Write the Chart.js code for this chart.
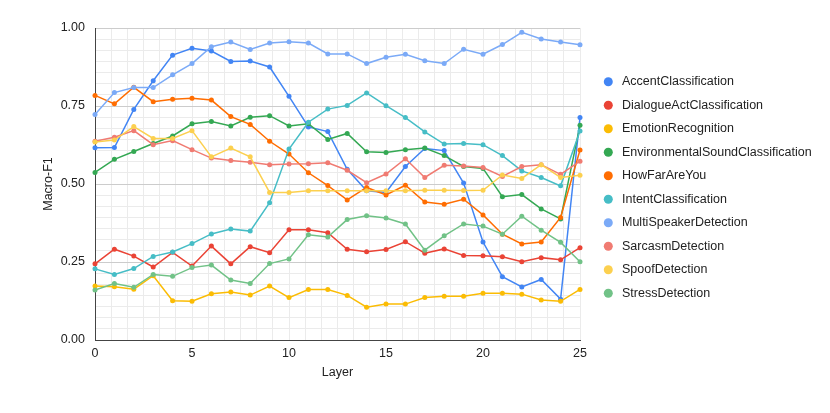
<!DOCTYPE html>
<html>
<head>
<meta charset="utf-8">
<script src="https://cdn.jsdelivr.net/npm/chart.js@4/dist/chart.umd.min.js"></script>
<style>
  html, body { margin: 0; padding: 0; background: #fff; }
  canvas { display: block; }
</style>
</head>
<body>
<canvas id="chart" width="830" height="413"></canvas>
<script>
// Macro-F1 per layer for each task

const layers = [0, 1, 2, 3, 4, 5, 6, 7, 8, 9, 10, 11, 12, 13, 14, 15, 16, 17, 18, 19, 20, 21, 22, 23, 24, 25];

const taskNames = [
    'AccentClassification',
    'DialogueActClassification',
    'EmotionRecognition',
    'EnvironmentalSoundClassification',
    'HowFarAreYou',
    'IntentClassification',
    'MultiSpeakerDetection',
    'SarcasmDetection',
    'SpoofDetection',
    'StressDetection'
];

const accent = [0.616, 0.617, 0.739, 0.831, 0.913, 0.935, 0.926, 0.893, 0.894, 0.875, 0.781, 0.683, 0.668, 0.547, 0.478, 0.473, 0.556, 0.614, 0.607, 0.503, 0.314, 0.203, 0.170, 0.194, 0.131, 0.713];
const dialogueAct = [0.244, 0.291, 0.269, 0.234, 0.281, 0.237, 0.301, 0.244, 0.299, 0.280, 0.353, 0.353, 0.344, 0.291, 0.283, 0.290, 0.315, 0.278, 0.292, 0.271, 0.270, 0.267, 0.251, 0.264, 0.257, 0.296];
const emotion = [0.173, 0.171, 0.163, 0.206, 0.126, 0.124, 0.148, 0.154, 0.144, 0.173, 0.136, 0.162, 0.162, 0.143, 0.105, 0.115, 0.115, 0.136, 0.140, 0.140, 0.150, 0.150, 0.147, 0.128, 0.124, 0.162];
const environmental = [0.537, 0.579, 0.604, 0.630, 0.654, 0.693, 0.700, 0.686, 0.714, 0.719, 0.686, 0.693, 0.643, 0.662, 0.603, 0.601, 0.610, 0.615, 0.591, 0.556, 0.550, 0.459, 0.466, 0.420, 0.388, 0.688];
const howFar = [0.784, 0.757, 0.810, 0.764, 0.772, 0.775, 0.769, 0.716, 0.691, 0.637, 0.596, 0.536, 0.495, 0.449, 0.489, 0.465, 0.496, 0.442, 0.435, 0.451, 0.401, 0.339, 0.308, 0.314, 0.393, 0.609];
const intent = [0.228, 0.210, 0.229, 0.268, 0.282, 0.309, 0.340, 0.356, 0.349, 0.440, 0.612, 0.698, 0.740, 0.752, 0.792, 0.751, 0.713, 0.667, 0.628, 0.630, 0.626, 0.591, 0.542, 0.521, 0.494, 0.670];
const multiSpeaker = [0.723, 0.793, 0.809, 0.809, 0.850, 0.886, 0.940, 0.955, 0.931, 0.952, 0.956, 0.952, 0.917, 0.917, 0.886, 0.906, 0.916, 0.895, 0.886, 0.932, 0.916, 0.947, 0.986, 0.965, 0.955, 0.946];
const sarcasm = [0.637, 0.650, 0.671, 0.626, 0.639, 0.610, 0.583, 0.575, 0.570, 0.562, 0.564, 0.565, 0.568, 0.544, 0.504, 0.532, 0.581, 0.521, 0.560, 0.558, 0.553, 0.524, 0.556, 0.562, 0.531, 0.573];
const spoof = [0.635, 0.641, 0.684, 0.646, 0.646, 0.671, 0.587, 0.615, 0.587, 0.473, 0.473, 0.478, 0.478, 0.478, 0.478, 0.478, 0.478, 0.480, 0.480, 0.479, 0.480, 0.529, 0.518, 0.562, 0.521, 0.528];
const stress = [0.160, 0.181, 0.169, 0.210, 0.204, 0.232, 0.240, 0.192, 0.181, 0.245, 0.260, 0.337, 0.330, 0.386, 0.398, 0.391, 0.372, 0.288, 0.334, 0.372, 0.365, 0.339, 0.397, 0.352, 0.313, 0.251];

const xTickLabels = [0, 5, 10, 15, 20, 25];
const yTickLabels = ['0.00', '0.25', '0.50', '0.75', '1.00'];

const seriesValues = [accent, dialogueAct, emotion, environmental, howFar, intent, multiSpeaker, sarcasm, spoof, stress];
const colors = ['#4285F4', '#EA4335', '#FBBC04', '#34A853', '#FF6D01', '#46BDC6', '#7BAAF7', '#F07B72', '#FCD04F', '#71C287'];

const FONT = '"Liberation Sans", Arial, sans-serif';
const TEXT = '#222222';

// gridlines: 7 minor steps per 0.25 on y, 6 per 5 layers on x
const Y_MINOR = 7;
const X_MINOR = 6;

function buildTicks(labels, minor) {
    const ticks = [];
    for (let i = 0; i < labels.length - 1; i++) {
        const a = parseFloat(labels[i]);
        const b = parseFloat(labels[i + 1]);
        for (let k = 0; k < minor; k++) {
            ticks.push({ value: a + (b - a) * k / minor });
        }
    }
    ticks.push({ value: parseFloat(labels[labels.length - 1]) });
    return ticks;
}

const datasets = taskNames.map((name, i) => ({
    label: name,
    data: layers.map((l, j) => ({ x: l, y: seriesValues[i][j] })),
    borderColor: colors[i],
    backgroundColor: colors[i],
    borderWidth: 1.5,
    pointRadius: 2.5,
    pointBorderWidth: 0,
    pointHoverRadius: 2.5,
    tension: 0,
    fill: false,
    clip: false,
    order: -i
}));

// legend on the right, drawn by hand
const sideLegend = {
    id: 'sideLegend',
    afterDraw(chart) {
        const ctx = chart.ctx;
        ctx.save();
        ctx.font = '12.5px ' + FONT;
        ctx.textBaseline = 'middle';
        ctx.textAlign = 'left';
        chart.data.datasets.forEach((ds, i) => {
            const y = 81.8 + i * 23.5;
            ctx.beginPath();
            ctx.arc(608.3, y, 4.5, 0, Math.PI * 2);
            ctx.fillStyle = ds.borderColor;
            ctx.fill();
            ctx.fillStyle = TEXT;
            ctx.fillText(ds.label, 622, y);
        });
        ctx.restore();
    }
};

new Chart(document.getElementById('chart').getContext('2d'), {
    type: 'line',
    data: { datasets: datasets },
    plugins: [sideLegend],
    options: {
        responsive: false,
        animation: false,
        devicePixelRatio: 1,
        layout: { padding: { top: 28, right: 250, bottom: 13, left: 0 } },
        plugins: {
            legend: { display: false },
            tooltip: { enabled: false }
        },
        scales: {
            x: {
                type: 'linear',
                min: 0,
                max: 25,
                afterBuildTicks: s => { s.ticks = buildTicks(xTickLabels, X_MINOR); },
                afterFit: s => { s.height = 60; },
                ticks: {
                    autoSkip: false,
                    maxRotation: 0,
                    padding: 6,
                    color: TEXT,
                    font: { family: FONT, size: 12.5 },
                    callback: (v, idx) => idx % X_MINOR === 0 ? String(xTickLabels[idx / X_MINOR]) : ''
                },
                grid: { color: '#ebebeb', lineWidth: 1, drawTicks: false },
                border: { color: '#444444', width: 1 },
                title: {
                    display: true,
                    text: 'Layer',
                    color: TEXT,
                    font: { family: FONT, size: 12.5 },
                    padding: { top: 0, bottom: 20 }
                }
            },
            y: {
                min: 0,
                max: 1,
                afterBuildTicks: s => { s.ticks = buildTicks(yTickLabels, Y_MINOR); },
                afterFit: s => { s.width = 95; },
                ticks: {
                    autoSkip: false,
                    padding: 10,
                    color: TEXT,
                    font: { family: FONT, size: 12.5 },
                    callback: (v, idx) => idx % Y_MINOR === 0 ? yTickLabels[idx / Y_MINOR] : ''
                },
                grid: {
                    color: c => c.index % Y_MINOR === 0 ? '#cccccc' : '#ebebeb',
                    lineWidth: 1,
                    drawTicks: false
                },
                border: { color: '#444444', width: 1 },
                title: {
                    display: true,
                    text: 'Macro-F1',
                    color: TEXT,
                    font: { family: FONT, size: 12.5 },
                    padding: { top: 41, bottom: 0 }
                }
            }
        }
    }
});
</script>
</body>
</html>
